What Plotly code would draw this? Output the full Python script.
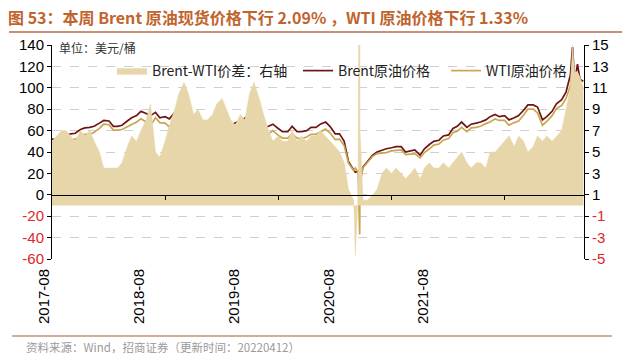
import pandas as pd
import plotly.graph_objects as go

# ---------------- data (semi-monthly readings, 1st & 15th) ----------------
start_date = "2017-08-01"
brent = [52, 51.5, 53, 55.5, 57, 57.5, 61, 62.5, 63, 64,
         67, 69.5, 69, 64, 64, 65, 69, 72, 74, 78, 76, 74, 77, 72,
         73, 71, 77, 78, 86, 81, 72, 66, 61, 59,
         53, 59, 61, 65, 65, 67, 69, 71, 74, 72, 63, 62, 64, 66,
         62, 59, 59, 64, 59, 59, 60, 63, 63, 66,
         68, 64, 57, 57, 50, 31, 23, 22, 26, 31, 37, 40, 42, 43,
         44, 45, 45, 40, 41, 42, 37, 43, 47, 50,
         51, 55, 56, 62, 64, 68, 63, 66, 67, 68, 70, 73, 75, 73,
         74, 70, 72, 74, 79, 84, 84, 82, 70, 73,
         78, 85, 89, 96, 112, 106, 108]
wti = [47.5, 46, 46.5, 49, 51, 52, 54.5, 56.5, 56.5, 58.5,
       62, 66, 65.5, 60.5, 60.5, 61, 63.5, 65.5, 68, 71, 68, 64.5, 72, 67.5,
       67, 63.5, 68, 67.5, 75, 71, 63.5, 57, 53, 51,
       44.5, 49.5, 51, 56, 57, 59.5, 60.5, 63, 63.5, 60.5, 53, 53.5, 57, 60,
       55.5, 53, 53, 57, 53, 52.5, 54, 56.5, 56.5, 59,
       61.5, 58, 51.5, 52, 46, 29.5, 22.5, 21, 25.5, 30.5, 36, 38.5, 39, 39.5,
       41, 41.5, 42, 37.5, 38, 38.5, 34.5, 39.5, 43, 46.5,
       47.5, 51, 52.5, 58, 59.5, 63, 59, 62.5, 63, 64, 66.5, 68, 71, 69.5,
       69.5, 65, 67.5, 69, 74.5, 80, 80, 76.5, 65, 68.5,
       74, 80.5, 83.5, 90, 102, 95, 98]
spread = [6, 6.5, 7, 7, 6.5, 6, 7, 6.5, 7, 6,
          5, 3.5, 3.5, 3.5, 3.5, 4, 5.5, 6.5, 6, 7, 8, 9.5, 5, 4.5,
          6, 7.5, 9, 10.5, 11.5, 10.5, 8.5, 9, 8, 8,
          8.5, 9.5, 10, 9, 8, 7.5, 8.5, 8, 10.5, 11.5, 10, 8.5, 7, 6,
          6.5, 6, 6, 7, 6, 6.5, 6, 6.5, 6.5, 7,
          6.5, 6, 5.5, 5, 4, 1.5, 0.5, 1, 0.5, 0.5, 1, 1.5, 3, 3.5,
          3, 3.5, 3, 2.5, 3, 3.5, 2.5, 3.5, 4, 3.5,
          3.5, 4, 3.5, 4, 4.5, 5, 4, 3.5, 4, 4, 3.5, 5, 5, 5.5,
          6, 6.5, 5.5, 6.5, 6, 5, 5.5, 6.5, 6, 6.5,
          6, 6.5, 7, 9, 11, 12.5, 12]

# individually read extra days (events)
event_dates = ["2020-04-06", "2020-04-20", "2020-04-21", "2022-03-08", "2022-03-24", "2022-04-12"]
event_brent = [21, 19, 17, 138, 122, 106]
event_wti = [25, -37, 10, 124, 112, 100]
event_spread = [-4.7, 56, 7, 15, 12.5, 11]

tick_dates = ["2018-08-01", "2019-08-01", "2020-08-01", "2021-08-01"]
tick_labels = ["2017-08", "2018-08", "2019-08", "2020-08", "2021-08"]
left_ticks = [-60, -40, -20, 0, 20, 40, 60, 80, 100, 120, 140]
right_ticks = [-5, -3, -1, 1, 3, 5, 7, 9, 11, 13, 15]

# ---------------- assemble ----------------
base_dates = pd.date_range(start_date, periods=len(brent), freq="SMS")
df = pd.concat([
    pd.DataFrame({"date": base_dates, "brent": brent, "wti": wti, "spread": spread}),
    pd.DataFrame({"date": pd.to_datetime(event_dates), "brent": event_brent,
                  "wti": event_wti, "spread": event_spread}),
]).sort_values("date").reset_index(drop=True)

FONT = "Liberation Sans, Arial, Noto Sans CJK SC, sans-serif"
CJK = "Noto Sans CJK SC, sans-serif"
RED = "#E0262A"
C_SPREAD = "#E7D6A9"
C_BRENT = "#6E1518"
C_WTI = "#C9A64E"


def colored(vals):
    out = []
    for v in vals:
        out.append(f'<span style="color:{RED}">{v}</span>' if v < 0 else str(v))
    return out


fig = go.Figure()
fig.add_trace(go.Scatter(
    x=df["date"], y=df["spread"], yaxis="y2", name="Brent-WTI价差：右轴",
    mode="lines", line=dict(color=C_SPREAD, width=0.5),
    fill="tozeroy", fillcolor=C_SPREAD, legend="legend"))
fig.add_trace(go.Scatter(
    x=df["date"], y=df["brent"], name="Brent原油价格", mode="lines",
    line=dict(color=C_BRENT, width=1.7), legend="legend2"))
fig.add_trace(go.Scatter(
    x=df["date"], y=df["wti"], name="WTI原油价格", mode="lines",
    line=dict(color=C_WTI, width=1.7), legend="legend3"))

L, R, T, B = 52, 50, 45, 105
W, H = 634, 364
PW, PH = W - L - R, H - T - B


def px_x(px):
    return (px - L) / PW


def px_y(py):
    return (H - B - py) / PH


def legend_at(px):
    return dict(orientation="h", x=px_x(px), y=px_y(55), xanchor="left", yanchor="top",
                bgcolor="rgba(0,0,0,0)", font=dict(family=CJK, size=14, color="#222"),
                itemwidth=30)


fig.update_layout(
    width=W, height=H,
    margin=dict(l=L, r=R, t=T, b=B),
    paper_bgcolor="white", plot_bgcolor="white",
    showlegend=True,
    legend=legend_at(112),
    legend2=legend_at(298),
    legend3=legend_at(446),
    title=dict(text="<b>图 53：本周 Brent 原油现货价格下行 2.09% ，WTI 原油价格下行 1.33%</b>",
               x=8 / W, xanchor="left", xref="container",
               y=1 - 18 / H, yanchor="middle", yref="container",
               font=dict(family=CJK, size=16, color="#C0642E")),
    xaxis=dict(type="date", range=["2017-08-01", "2022-04-14"],
               anchor="free", position=0.3,
               showgrid=False, zeroline=False,
               showline=True, linecolor="black", linewidth=1.2,
               ticks="outside", ticklen=4, tickcolor="black",
               tickvals=tick_dates, showticklabels=False),
    yaxis=dict(range=[-60, 140], tickvals=left_ticks, ticktext=colored(left_ticks),
               showgrid=True, gridcolor="#CFCFCF", griddash="dash", gridwidth=1,
               zeroline=False, showline=True, linecolor="black", linewidth=1,
               ticks="outside", ticklen=4, tickcolor="black",
               tickfont=dict(family=FONT, size=15, color="black")),
    yaxis2=dict(range=[-5, 15], overlaying="y", side="right",
                tickvals=right_ticks, ticktext=colored(right_ticks),
                showgrid=False, zeroline=False, showline=True, linecolor="black", linewidth=1,
                ticks="outside", ticklen=4, tickcolor="black",
                tickfont=dict(family=FONT, size=15, color="black")),
)

label_px = [43, 138, 233, 328, 422]
annotations = []
for lab, px in zip(tick_labels, label_px):
    annotations.append(dict(text=lab, x=px_x(px), y=px_y(297), xref="paper", yref="paper",
                            textangle=-90, showarrow=False, xanchor="center", yanchor="middle",
                            font=dict(family=FONT, size=15, color="black")))
annotations.append(dict(text="单位：美元/桶", x=px_x(57), y=px_y(48), xref="paper", yref="paper",
                        showarrow=False, xanchor="left", yanchor="middle",
                        font=dict(family=CJK, size=12, color="#333")))
annotations.append(dict(text="资料来源：Wind，招商证券（更新时间：20220412）", x=px_x(24), y=px_y(347),
                        xref="paper", yref="paper", showarrow=False, xanchor="left", yanchor="middle",
                        font=dict(family=CJK, size=11.5, color="#9A9A9A")))
fig.update_layout(annotations=annotations)

fig.add_shape(type="line", xref="paper", yref="paper", x0=px_x(9), x1=px_x(622),
              y0=px_y(32), y1=px_y(32), line=dict(color="#C49277", width=2))
fig.add_shape(type="line", xref="paper", yref="paper", x0=px_x(12), x1=px_x(612),
              y0=px_y(336), y1=px_y(336), line=dict(color="#C49277", width=1.5))

fig.write_html("out.html", config={"displayModeBar": False},
               post_script="document.body.style.margin='0px';")
